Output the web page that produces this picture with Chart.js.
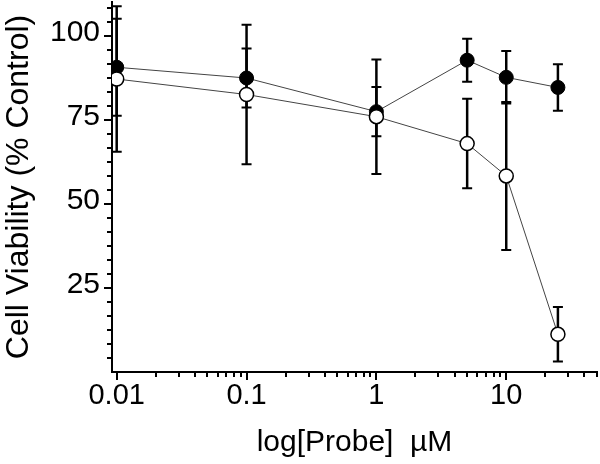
<!DOCTYPE html>
<html><head><meta charset="utf-8">
<script src="https://cdn.jsdelivr.net/npm/chart.js@4/dist/chart.umd.min.js"></script>
<style>html,body{margin:0;padding:0;background:#fff}</style>
</head><body>
<canvas id="c" width="600" height="464"></canvas>
<script>
const doses = [0.01, 0.1, 1, 5, 10, 25];
const filledMean = [90.6, 87.4, 77.4, 92.7, 87.6, 84.6];
const filledErr  = [14.4, 8.8, 7.3, 6.4, 7.8, 6.9];
const openMean   = [87.1, 82.5, 75.9, 67.9, 58.3, 11.2];
const openErr    = [21.6, 20.7, 17.0, 13.3, 22.0, 8.1];
const xTickLabels = [0.01, 0.1, 1, 10];
const yTickLabels = [25, 50, 75, 100];

const FONT = '"Liberation Sans", Arial, sans-serif';

const errorBars = {
  id: 'errorBars',
  beforeDatasetsDraw(chart) {
    const ctx = chart.ctx, xs = chart.scales.x, ys = chart.scales.y;
    const sets = [[filledMean, filledErr], [openMean, openErr]];
    ctx.save();
    ctx.strokeStyle = '#000';
    sets.forEach(([m, e]) => {
      doses.forEach((d, i) => {
        const px = xs.getPixelForValue(d);
        const t = ys.getPixelForValue(m[i] + e[i]);
        const b = ys.getPixelForValue(m[i] - e[i]);
        ctx.lineWidth = 2.5;
        ctx.beginPath(); ctx.moveTo(px, t); ctx.lineTo(px, b); ctx.stroke();
        ctx.lineWidth = 2;
        ctx.beginPath();
        ctx.moveTo(px - 5, t); ctx.lineTo(px + 5, t);
        ctx.moveTo(px - 5, b); ctx.lineTo(px + 5, b);
        ctx.stroke();
      });
    });
    ctx.restore();
  }
};

const axisTicks = {
  id: 'axisTicks',
  afterDraw(chart) {
    const ctx = chart.ctx, xs = chart.scales.x, ys = chart.scales.y, a = chart.chartArea;
    ctx.save();
    ctx.strokeStyle = '#000';
    ctx.lineWidth = 2;
    for (let d = -3; d <= 2; d++) {
      for (let m = 1; m <= 9; m++) {
        const v = m * Math.pow(10, d);
        if (v < xs.min || v > xs.max * 1.0001) continue;
        const px = Math.round(xs.getPixelForValue(v));
        const len = m === 1 ? 8 : 5;
        ctx.beginPath(); ctx.moveTo(px, a.bottom); ctx.lineTo(px, a.bottom + len); ctx.stroke();
      }
    }
    for (let k = 1; k <= 26; k++) {
      const v = k * 25 / 6;
      const py = Math.round(ys.getPixelForValue(v));
      const len = k % 6 === 0 ? 8 : 5;
      ctx.beginPath(); ctx.moveTo(a.left, py); ctx.lineTo(a.left - len, py); ctx.stroke();
    }
    ctx.restore();
  }
};

function noPad(s) { s.paddingTop = 0; s.paddingBottom = 0; s.paddingLeft = 0; s.paddingRight = 0; }

new Chart(document.getElementById('c'), {
  type: 'line',
  data: {
    datasets: [
      {
        label: 'Filled',
        data: doses.map((d, i) => ({x: d, y: filledMean[i]})),
        borderColor: '#444', borderWidth: 1,
        pointRadius: 7, pointBackgroundColor: '#000', pointBorderColor: '#000', pointBorderWidth: 1,
        order: 2, tension: 0
      },
      {
        label: 'Open',
        data: doses.map((d, i) => ({x: d, y: openMean[i]})),
        borderColor: '#444', borderWidth: 1,
        pointRadius: 7, pointBackgroundColor: '#fff', pointBorderColor: '#000', pointBorderWidth: 1.5,
        order: 1, tension: 0
      }
    ]
  },
  options: {
    responsive: false,
    animation: false,
    layout: {autoPadding: false, padding: {left: 0, right: 3, top: 2, bottom: 0}},
    plugins: {legend: {display: false}, tooltip: {enabled: false}},
    scales: {
      x: {
        type: 'logarithmic', min: 0.0092, max: 50,
        border: {display: true, color: '#000', width: 2},
        grid: {display: false, drawTicks: false},
        afterBuildTicks(s) { s.ticks = xTickLabels.map(v => ({value: v})); },
        afterFit(s) { s.height = 92; noPad(s); },
        ticks: {autoSkip: false, maxRotation: 0, padding: 7, color: '#000',
          font: {family: FONT, size: 29},
          callback: (v) => String(v)},
        title: {display: true, text: 'log[Probe]  µM', color: '#000',
          font: {family: FONT, size: 30}, padding: {top: 0, bottom: 3}}
      },
      y: {
        min: 0, max: 110,
        border: {display: true, color: '#000', width: 2},
        grid: {display: false, drawTicks: false},
        afterBuildTicks(s) { s.ticks = yTickLabels.map(v => ({value: v})); },
        afterFit(s) { s.width = 112; noPad(s); },
        ticks: {autoSkip: false, padding: 12, labelOffset: -3, color: '#000',
          font: {family: FONT, size: 30}, callback: (v) => String(v)},
        title: {display: true, text: 'Cell Viability (% Control)', color: '#000',
          font: {family: FONT, size: 32}, padding: {top: 0, bottom: 0}}
      }
    }
  },
  plugins: [errorBars, axisTicks]
});
</script>
</body></html>
